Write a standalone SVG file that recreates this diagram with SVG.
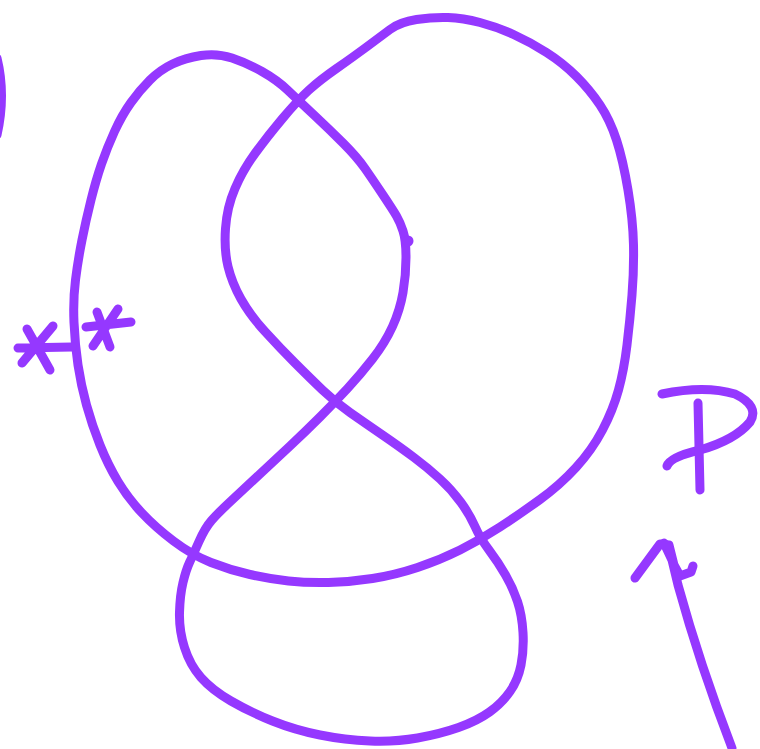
<svg xmlns="http://www.w3.org/2000/svg" width="760" height="749" viewBox="0 0 760 749">
<style>
.s{fill:none;stroke:#9538ff;stroke-width:9;stroke-linecap:round;stroke-linejoin:round}
.d{fill:#9538ff}
</style>
<rect width="760" height="749" fill="#ffffff"/>
<g id="knot">
<path class="s" d="M406,257.5 Q406,240 403,231 Q400,222 396.5,216 Q393,210 383,195 Q373,180 365,168.5 Q357,157 343.5,143.5 Q330,130 314,115 Q298,100 287.5,90 Q277,80 262,71.5 Q247,63 232,58 Q217,53 201,55.5 Q185,58 172.5,64 Q160,70 150,80 Q140,90 131,102.5 Q122,115 114.5,131.5 Q107,148 101.5,164 Q96,180 91,200 Q86,220 82,240 Q78,260 75.5,280 Q73,300 74,322.5 Q75,345 78,365 Q81,385 86.5,405 Q92,425 100,445 Q108,465 118,481.5 Q128,498 141.5,512.5 Q155,527 173.5,541 Q192,555 211,562.5 Q230,570 250,574.5 Q270,579 288.5,581 Q307,583 328.5,582.5 Q350,582 372.5,578.5 Q395,575 417.5,567.5 Q440,560 460,550 Q480,540 500,527 Q520,514 540,499.5 Q560,485 576,467.5 Q592,450 602.5,430 Q613,410 618.5,390 Q624,370 627,345 Q630,320 632,295 Q634,270 633.5,245 Q633,220 628,190 Q623,160 616.5,140 Q610,120 600,105 Q590,90 576.5,76.5 Q563,63 546.5,52.5 Q530,42 513.5,34.5 Q497,27 480,22.5 Q463,18 448,17.5 Q433,17 416.5,19.5 Q400,22 390,29.5 Q380,37 366.5,47 Q353,57 336.5,68.5 Q320,80 309,90 Q298,100 282.5,118.5 Q267,137 255,153.5 Q243,170 235,188.5 Q227,207 225.5,228.5 Q224,250 228,266.5 Q232,283 241,299 Q250,315 265,331.5 Q280,348 295,363 Q310,378 322.5,390 Q335,402 350,412.5 Q365,423 382.5,435 Q400,447 414,457.5 Q428,468 440,479 Q452,490 461,502.5 Q470,515 475,526.5 Q480,538 489,550 Q498,562 505.5,575 Q513,588 517.5,601.5 Q522,615 523,632.5 Q524,650 521,665 Q518,680 510,691.5 Q502,703 489.5,712 Q477,721 458.5,727.5 Q440,734 417.5,738 Q395,742 370,741 Q345,740 320,735 Q295,730 272.5,721 Q250,712 231,701 Q212,690 201,677.5 Q190,665 184.5,647.5 Q179,630 179.5,612.5 Q180,595 183,582.5 Q186,570 189.5,562.5 Q193,555 199,541.5 Q205,528 211.5,520.5 Q218,513 231.5,500.5 Q245,488 260,474 Q275,460 290,446 Q305,432 320,417 Q335,402 347.5,388.5 Q360,375 372.5,359 Q385,343 392.5,326.5 Q400,310 403,292.5 Q406,275 406,257.5 Z"/>
<circle class="d" cx="408" cy="241" r="5.5"/>
</g>
<g id="edge-curve">
<path class="s" d="M-3,58 Q6,95 -3,135"/>
</g>
<g id="asterisk-left">
<path class="s" d="M27,329 L50,370 M53,326 L22,363 M18,348 L72,347"/>
</g>
<g id="asterisk-right">
<path class="s" d="M97,312 L110,347 M118,309 L93,346 M86,327 L131,322"/>
</g>
<g id="label-P">
<path class="s" d="M662,394 Q705,385 735,394 Q760,406 750,422 Q735,440 700,450 Q670,457 667,466"/>
<path class="s" d="M698,403 L700,490"/>
</g>
<g id="arrow">
<path class="s" d="M732,748 Q700,665 678,585 L672,560 L664,543"/>
<path class="s" d="M635,578 L660,544 L669,545 L674,565 L680,576 L691,572 L693,566"/>
</g>
</svg>
